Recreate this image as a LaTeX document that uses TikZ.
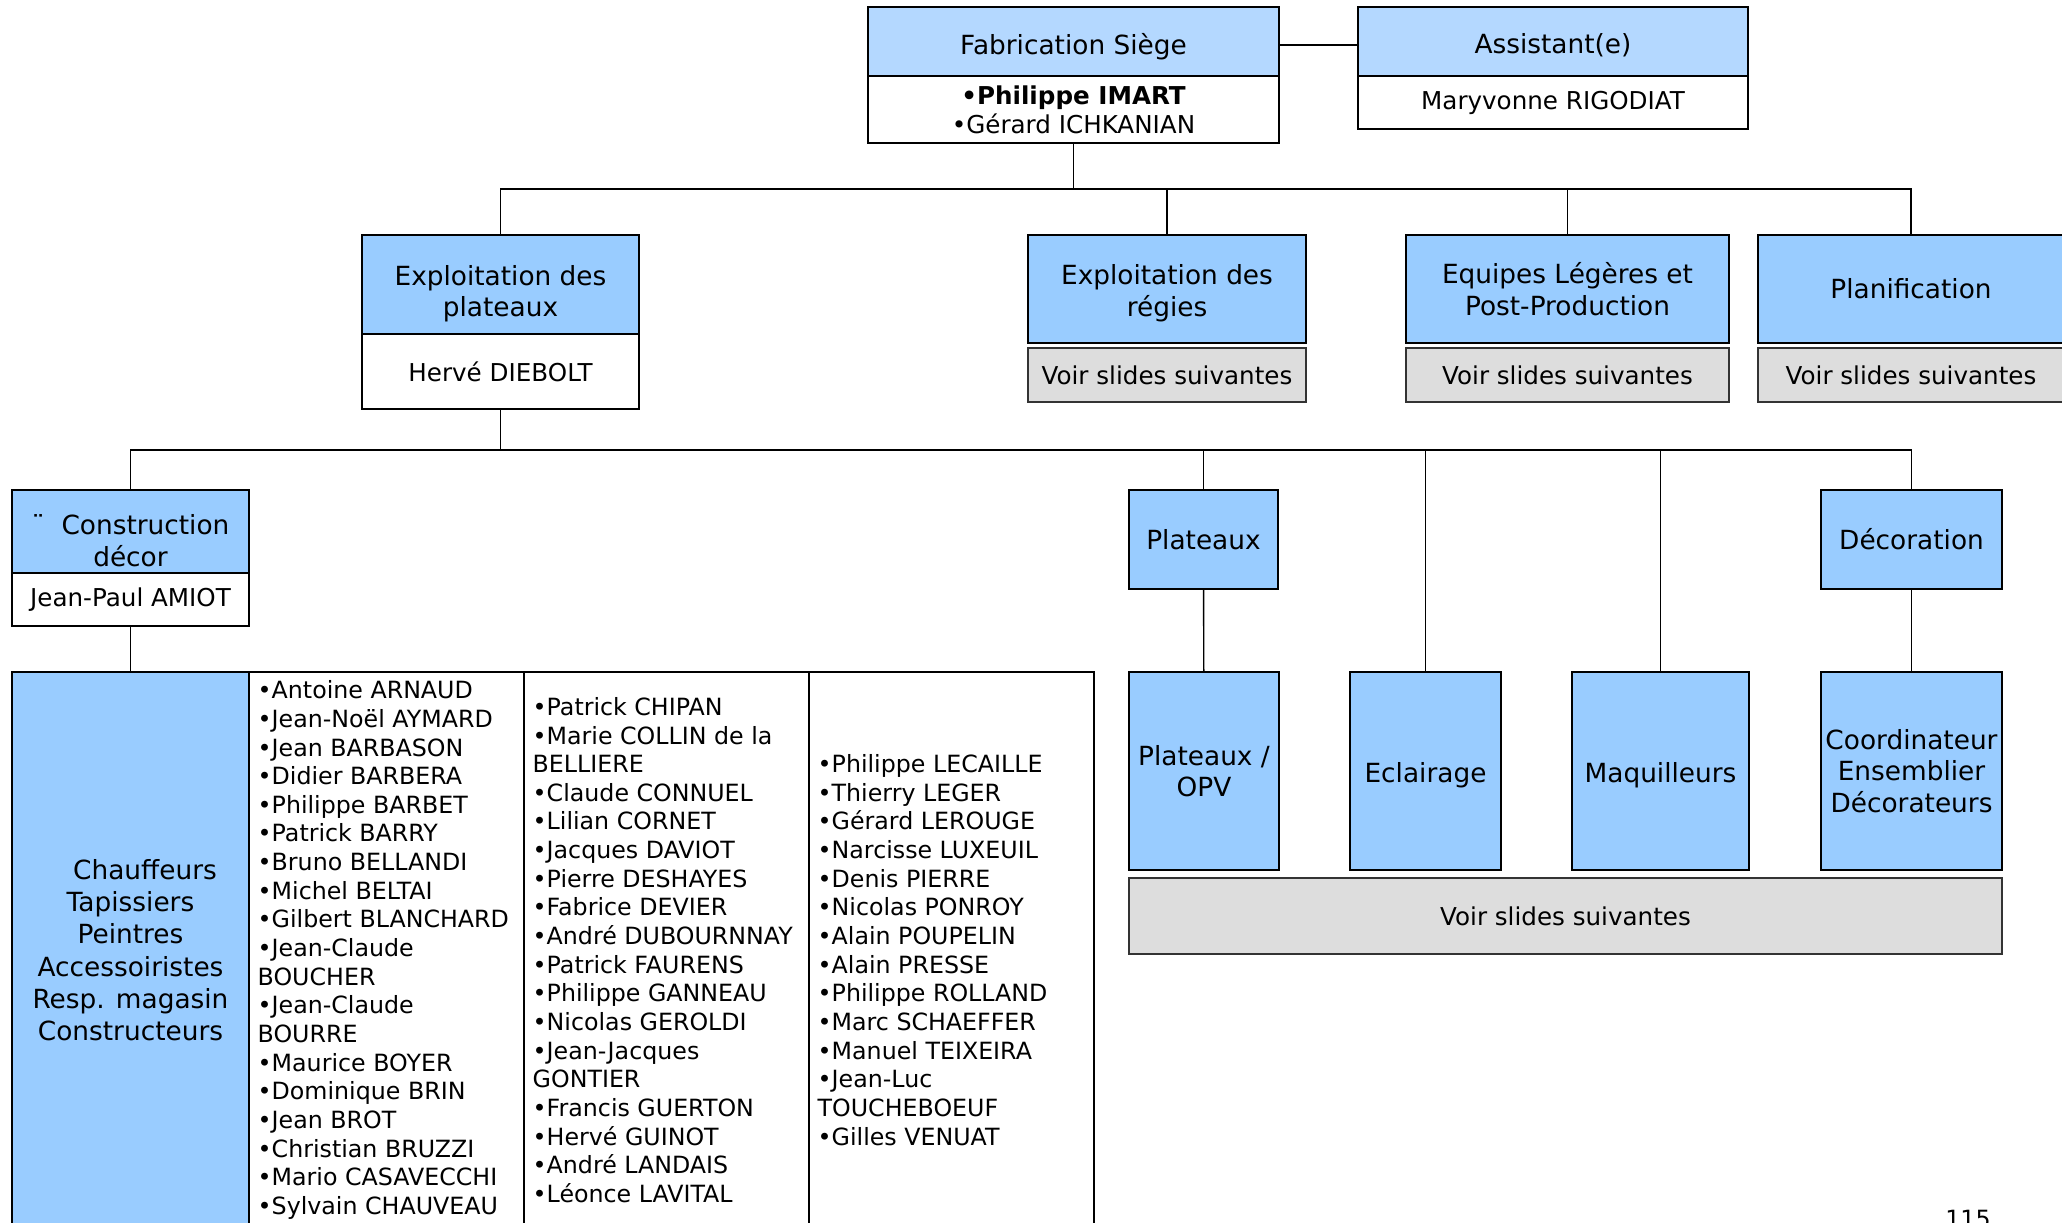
\documentclass[tikz,border=0pt]{standalone}
\usepackage{fontspec}
\setmainfont{DejaVu Sans}
\usetikzlibrary{positioning}
\definecolor{cblue}{HTML}{99CCFF}
\definecolor{cpale}{HTML}{B4D8FF}
\definecolor{cgrey}{HTML}{DDDDDD}
\newcommand{\dropto}[1]{\rule{0pt}{#1}}
\tikzset{
  every picture/.style={line width=0.8pt},
  head/.style={draw=black, fill=#1, align=center, inner sep=0pt, outer sep=0pt, font=\fontsize{15}{18}\selectfont},
  head/.default=cblue,
  who/.style={draw=black, fill=white, align=center, inner sep=0pt, outer sep=0pt, font=\fontsize{14}{16.5}\selectfont},
  voir/.style={draw=black!80, fill=cgrey, align=center, inner sep=0pt, outer sep=0pt, font=\fontsize{14}{16.5}\selectfont},
  cell/.style={draw=black, fill=white, anchor=north west, inner sep=0pt, outer sep=0pt, minimum height=111.2mm},
  names/.style={anchor=west, align=left, inner sep=0pt, font=\fontsize{13.5}{16.3}\selectfont},
  link/.style={draw=black, line width=0.8pt},
}

\begin{document}
\begin{tikzpicture}[x=0.2mm, y=-0.2mm]
  \useasboundingbox (0,0) rectangle (2062,1223);
  % top
  \node[head=cpale, anchor=north west, minimum width=82.2mm, minimum height=13.8mm] (fab) at (868,7) {\dropto{17.5pt}Fabrication Siège};
  \node[who, below=0pt of fab, minimum width=82.2mm, minimum height=13.4mm] (fabn) {\textbf{•Philippe IMART}\\•Gérard ICHKANIAN};
  \node[head=cpale, anchor=north west, minimum width=78mm, minimum height=13.8mm] (asst) at (1358,7) {\dropto{16pt}Assistant(e)};
  \node[who, below=0pt of asst, minimum width=78mm, minimum height=10.6mm] (asstn) {Maryvonne RIGODIAT};
  \draw[link] ([yshift=-0.7mm]fab.east) -- ([yshift=-0.7mm]asst.west);
  % second level
  \node[head, anchor=north west, minimum width=55.4mm, minimum height=19.8mm] (explp) at (362,235) {\dropto{22pt}Exploitation des\\plateaux};
  \node[who, below=0pt of explp, minimum width=55.4mm, minimum height=15mm] (explpn) {Hervé DIEBOLT};
  \node[head, anchor=north west, minimum width=55.6mm, minimum height=21.6mm] (explr) at (1028,235) {\dropto{16pt}Exploitation des\\régies};
  \node[head, anchor=north west, minimum width=64.6mm, minimum height=21.6mm] (equip) at (1406,235) {Equipes Légères et\\Post-Production};
  \node[head, anchor=north west, minimum width=61.2mm, minimum height=21.6mm] (plan) at (1758,235) {Planification};
  \foreach \n/\w in {explr/55.6mm, equip/64.6mm, plan/61.2mm}
    \node[voir, below=1mm of \n, minimum width=\w, minimum height=10.8mm] (\n v) {Voir slides suivantes};
  \foreach \n in {explp,explr,equip,plan}
    \draw[link] (fabn.south) -- ++(0,46) -| (\n.north);
  % third level
  \node[head, anchor=north west, minimum width=47.4mm, minimum height=16.6mm] (constr) at (12,490) {\dropto{22pt}¨\ \ Construction\\décor};
  \node[who, below=0pt of constr, minimum width=47.4mm, minimum height=10.6mm] (constrn) {Jean-Paul AMIOT};
  \node[head, anchor=north west, minimum width=29.8mm, minimum height=19.8mm] (plat) at (1129,490) {Plateaux};
  \node[head, anchor=north west, minimum width=36.2mm, minimum height=19.8mm] (deco) at (1821,490) {Décoration};
  % teams
  \node[head, anchor=north west, minimum width=30mm, minimum height=39.6mm] (opv) at (1129,672) {Plateaux /\\OPV};
  \node[head, anchor=north west, minimum width=30.2mm, minimum height=39.6mm] (eclair) at (1350,672) {\dropto{16pt}Eclairage};
  \node[head, anchor=north west, minimum width=35.4mm, minimum height=39.6mm] (maq) at (1572,672) {\dropto{16pt}Maquilleurs};
  \node[head, anchor=north west, minimum width=36.2mm, minimum height=39.6mm] (coord) at (1821,672) {Coordinateur\\Ensemblier\\Décorateurs};
  \node[voir, anchor=north west, minimum width=174.6mm, minimum height=15.2mm] (voirbas) at (1129,878) {Voir slides suivantes};
  \foreach \n in {constr,plat,eclair,maq,deco}
    \draw[link] (explpn.south) -- ++(0,41) -| (\n.north);
  \draw[link] (plat) -- (opv);
  \draw[link] (deco) -- (coord);
  % construction staff
  \node[cell, fill=cblue, minimum width=47.4mm, align=center, font=\fontsize{15}{18.4}\selectfont] (metiers) at (12,672) {\hspace*{1.1em}Chauffeurs\\Tapissiers\\Peintres\\Accessoiristes\\Resp. magasin\\Constructeurs};
  \draw[link] (constrn) -- (metiers);
  \node[cell, minimum width=55mm] (col1) at (249,672) {};
  \node[cell, minimum width=57mm] (col2) at (524,672) {};
  \node[cell, minimum width=57mm] (col3) at (809,672) {};
  \node[names, right=1.6mm of col1.west] (list1) {•Antoine ARNAUD\\•Jean-Noël AYMARD\\•Jean BARBASON\\•Didier BARBERA\\•Philippe BARBET\\•Patrick BARRY\\•Bruno BELLANDI\\•Michel BELTAI\\•Gilbert BLANCHARD\\•Jean-Claude\\BOUCHER\\•Jean-Claude\\BOURRE\\•Maurice BOYER\\•Dominique BRIN\\•Jean BROT\\•Christian BRUZZI\\•Mario CASAVECCHI\\•Sylvain CHAUVEAU};
  \node[names, right=1.6mm of col2.west] (list2) {•Patrick CHIPAN\\•Marie COLLIN de la\\BELLIERE\\•Claude CONNUEL\\•Lilian CORNET\\•Jacques DAVIOT\\•Pierre DESHAYES\\•Fabrice DEVIER\\•André DUBOURNNAY\\•Patrick FAURENS\\•Philippe GANNEAU\\•Nicolas GEROLDI\\•Jean-Jacques\\GONTIER\\•Francis GUERTON\\•Hervé GUINOT\\•André LANDAIS\\•Léonce LAVITAL};
  \node[names, right=1.6mm of col3.west] (list3) {•Philippe LECAILLE\\•Thierry LEGER\\•Gérard LEROUGE\\•Narcisse LUXEUIL\\•Denis PIERRE\\•Nicolas PONROY\\•Alain POUPELIN\\•Alain PRESSE\\•Philippe ROLLAND\\•Marc SCHAEFFER\\•Manuel TEIXEIRA\\•Jean-Luc\\TOUCHEBOEUF\\•Gilles VENUAT};
  % page number
  \node[font=\fontsize{13.5}{16}\selectfont, anchor=base, inner sep=0pt] (page) at (1968,1227) {115};
\end{tikzpicture}
\end{document}
